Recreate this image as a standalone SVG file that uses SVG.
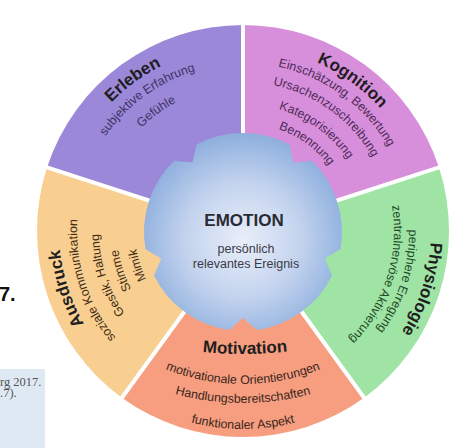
<svg xmlns="http://www.w3.org/2000/svg" width="474" height="448" viewBox="0 0 474 448">
<style>
.t{font-family:"Liberation Sans",Arial,sans-serif;font-weight:bold;font-size:17px;fill:#1e1e1e}
.s{font-family:"Liberation Sans",Arial,sans-serif;font-size:12.4px}
.e1{fill:#3b3366}.e2{fill:#4d2a55}.e3{fill:#1f4a26}.e4{fill:#3a2620}.e5{fill:#3d2d14}
.div{stroke:#fff;stroke-width:4;fill:none}
</style>
<defs>
<radialGradient id="blue" cx="243" cy="240" r="105" gradientUnits="userSpaceOnUse">
<stop offset="0" stop-color="#e9eef9"/>
<stop offset="0.55" stop-color="#c3d3ee"/>
<stop offset="1" stop-color="#8fb0de"/>
</radialGradient>
<!-- Erleben arcs -->
<path id="pE0" d="M66.13,281.72 A184,184 0 0 1 345.89,78.46"/>
<path id="pE1" d="M82.47,277.03 A167,167 0 0 1 336.38,92.55"/>
<path id="pE2" d="M103.62,270.97 A145,145 0 0 1 324.08,110.79"/>
<!-- Kognition arcs -->
<path id="pK0" d="M140.11,78.46 A184,184 0 0 1 419.87,281.72"/>
<path id="pK1" d="M149.06,91.72 A168,168 0 0 1 404.49,277.31"/>
<path id="pK2" d="M159.68,107.47 A149,149 0 0 1 386.23,272.07"/>
<path id="pK3" d="M171.98,125.71 A127,127 0 0 1 365.08,266.01"/>
<path id="pK4" d="M182.61,141.46 A108,108 0 0 1 346.82,260.77"/>
<!-- Physiologie arcs -->
<path id="pP0" d="M358.74,82.85 A188,188 0 0 1 249.56,418.89"/>
<path id="pP1" d="M345.20,100.19 A166,166 0 0 1 248.79,396.90"/>
<path id="pP2" d="M335.96,112.01 A151,151 0 0 1 248.27,381.91"/>
<!-- Motivation arcs -->
<path id="pM0" d="M143,341.30 A400,400 0 0 0 343,341.30"/>
<path id="pM1" d="M123,346.34 A210,210 0 0 0 363,346.34"/>
<path id="pM2" d="M133,378.58 A260,260 0 0 0 353,378.58"/>
<path id="pM3" d="M143,403.66 A210,210 0 0 0 343,403.66"/>
<!-- Ausdruck arcs -->
<path id="pA0" d="M236.58,414.89 A184,184 0 0 1 129.72,86.00"/>
<path id="pA1" d="M237.21,396.90 A166,166 0 0 1 140.80,100.19"/>
<path id="pA2" d="M237.97,374.91 A144,144 0 0 1 154.34,117.53"/>
<path id="pA3" d="M238.60,356.92 A126,126 0 0 1 165.43,131.71"/>
<path id="pA4" d="M239.23,338.93 A108,108 0 0 1 176.51,145.89"/>
</defs>

<!-- page fragments -->
<g id="page-fragments">
<text x="-1" y="301" style="font-family:'Liberation Sans',Arial,sans-serif;font-weight:bold;font-size:20px;fill:#111">7.</text>
<rect x="0" y="369" width="45" height="79" fill="#dfe9f4"/>
<text x="0" y="386" style="font-family:'Liberation Serif','Times New Roman',serif;font-size:12.5px;fill:#555">rg 2017.</text>
<text x="0" y="397" style="font-family:'Liberation Serif','Times New Roman',serif;font-size:12.5px;fill:#555">.7).</text>
</g>

<g id="erleben">
<path d="M243,231 L47.08,167.34 A206,206 0 0 1 243,25 Z" fill="#9c88d8"/>
<text class="t"><textPath href="#pE0" startOffset="50%" text-anchor="middle">Erleben</textPath></text>
<text class="s e1"><textPath href="#pE1" startOffset="50%" text-anchor="middle">subjektive Erfahrung</textPath></text>
<text class="s e1"><textPath href="#pE2" startOffset="50%" text-anchor="middle">Gefühle</textPath></text>
</g>

<g id="kognition">
<path d="M243,231 L243,25 A206,206 0 0 1 438.92,167.34 Z" fill="#d78fdc"/>
<text class="t"><textPath href="#pK0" startOffset="50%" text-anchor="middle">Kognition</textPath></text>
<text class="s e2"><textPath href="#pK1" startOffset="50%" text-anchor="middle">Einschätzung, Bewertung</textPath></text>
<text class="s e2"><textPath href="#pK2" startOffset="50%" text-anchor="middle">Ursachenzuschreibung</textPath></text>
<text class="s e2"><textPath href="#pK3" startOffset="50%" text-anchor="middle">Kategorisierung</textPath></text>
<text class="s e2"><textPath href="#pK4" startOffset="50%" text-anchor="middle">Benennung</textPath></text>
</g>

<g id="physiologie">
<path d="M243,231 L438.92,167.34 A206,206 0 0 1 364.08,397.66 Z" fill="#9fe3a5"/>
<text class="t"><textPath href="#pP0" startOffset="50%" text-anchor="middle">Physiologie</textPath></text>
<text class="s e3"><textPath href="#pP1" startOffset="50%" text-anchor="middle">periphere Erregung</textPath></text>
<text class="s e3"><textPath href="#pP2" startOffset="50%" text-anchor="middle">zentralnervöse Aktivierung</textPath></text>
</g>

<g id="motivation">
<path d="M243,231 L364.08,397.66 A206,206 0 0 1 121.92,397.66 Z" fill="#f69e7f"/>
<text class="t"><textPath href="#pM0" startOffset="51%" text-anchor="middle">Motivation</textPath></text>
<text class="s e4"><textPath href="#pM1" startOffset="50%" text-anchor="middle">motivationale Orientierungen</textPath></text>
<text class="s e4"><textPath href="#pM2" startOffset="50%" text-anchor="middle">Handlungsbereitschaften</textPath></text>
<text class="s e4"><textPath href="#pM3" startOffset="50%" text-anchor="middle">funktionaler Aspekt</textPath></text>
</g>

<g id="ausdruck">
<path d="M243,231 L121.92,397.66 A206,206 0 0 1 47.08,167.34 Z" fill="#f9ce91"/>
<text class="t"><textPath href="#pA0" startOffset="50%" text-anchor="middle">Ausdruck</textPath></text>
<text class="s e5"><textPath href="#pA1" startOffset="50%" text-anchor="middle">soziale Kommunikation</textPath></text>
<text class="s e5"><textPath href="#pA2" startOffset="50%" text-anchor="middle">Gestik, Haltung</textPath></text>
<text class="s e5"><textPath href="#pA3" startOffset="50%" text-anchor="middle">Stimme</textPath></text>
<text class="s e5"><textPath href="#pA4" startOffset="50%" text-anchor="middle">Mimik</textPath></text>
</g>

<g id="connectors">
<line class="div" x1="243" y1="231" x2="243" y2="20"/>
<line class="div" x1="243" y1="231" x2="443.7" y2="165.8"/>
<line class="div" x1="243" y1="231" x2="367.0" y2="401.7"/>
<line class="div" x1="243" y1="231" x2="119.0" y2="401.7"/>
<line class="div" x1="243" y1="231" x2="42.3" y2="165.8"/>
</g>

<g id="emotion">
<path d="M196.52,144.59 A99,99 0 0 1 289.48,144.59 L293.55,162.42 L311.77,160.79 A99,99 0 0 1 340.50,249.19 L324.79,258.58 L331.98,275.40 A99,99 0 0 1 256.78,330.04 L243,318 L229.22,330.04 A99,99 0 0 1 154.02,275.40 L161.21,258.58 L145.50,249.19 A99,99 0 0 1 174.23,160.79 L192.45,162.42 Z" fill="url(#blue)"/>
<text x="244" y="226" text-anchor="middle" style="font-family:'Liberation Sans',Arial,sans-serif;font-weight:bold;font-size:17px;fill:#2a2a33">EMOTION</text>
<text x="246" y="253" text-anchor="middle" style="font-family:'Liberation Sans',Arial,sans-serif;font-size:12.5px;fill:#3a3a48">persönlich</text>
<text x="246" y="268" text-anchor="middle" style="font-family:'Liberation Sans',Arial,sans-serif;font-size:12.5px;fill:#3a3a48">relevantes Ereignis</text>
</g>
</svg>
